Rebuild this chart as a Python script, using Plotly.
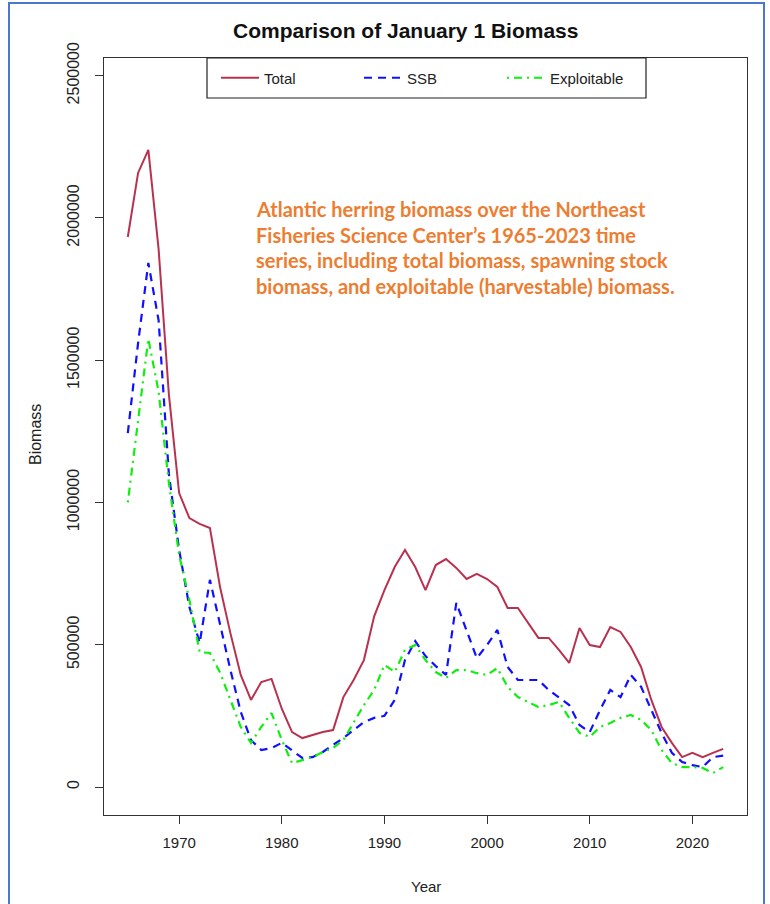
import plotly.graph_objects as go

years = list(range(1965, 2024))
total = [1933000, 2158000, 2239000, 1890000, 1380000, 1033000, 945000, 925000, 910000, 700000,
         540000, 394000, 306000, 369000, 380000, 275000, 193000, 172000, 183000, 193000,
         200000, 316000, 376000, 446000, 600000, 692000, 773000, 833000, 773000, 692000,
         780000, 801000, 770000, 731000, 749000, 731000, 703000, 629000, 629000, 576000,
         524000, 524000, 482000, 436000, 559000, 499000, 492000, 562000, 545000, 492000,
         422000, 306000, 211000, 155000, 105000, 120000, 105000, 120000, 134000]
ssb = [1244000, 1560000, 1842000, 1640000, 1100000, 833000, 633000, 506000, 728000, 569000,
       411000, 264000, 165000, 130000, 137000, 155000, 130000, 102000, 105000, 123000,
       148000, 172000, 200000, 228000, 243000, 250000, 306000, 446000, 513000, 460000,
       425000, 394000, 647000, 552000, 453000, 499000, 552000, 422000, 376000, 376000,
       376000, 341000, 316000, 288000, 218000, 193000, 270000, 341000, 316000, 394000,
       352000, 270000, 190000, 120000, 88000, 77000, 70000, 105000, 110000]
exploitable = [1000000, 1290000, 1575000, 1389000, 1069000, 815000, 657000, 474000, 471000, 401000,
               306000, 211000, 155000, 211000, 260000, 165000, 84000, 95000, 105000, 123000,
               137000, 165000, 228000, 288000, 341000, 429000, 404000, 482000, 499000, 446000,
               404000, 383000, 411000, 411000, 400000, 394000, 418000, 352000, 316000, 299000,
               281000, 288000, 299000, 243000, 190000, 176000, 211000, 225000, 243000, 253000,
               236000, 200000, 130000, 84000, 70000, 70000, 67000, 49000, 70000]

x_ticks = [1970, 1980, 1990, 2000, 2010, 2020]
y_ticks = [0, 500000, 1000000, 1500000, 2000000, 2500000]

title_text = "Comparison of January 1 Biomass"
note_lines = [
    "Atlantic herring biomass over the Northeast",
    "Fisheries Science Center\u2019s 1965-2023 time",
    "series, including total biomass, spawning stock",
    "biomass, and exploitable (harvestable) biomass.",
]

W, H = 770, 904
L, R, T, B = 104, 23, 58, 89
pw, ph = W - L - R, H - T - B

def px(x):
    return (x - L) / pw

def py(y):
    return (H - B - y) / ph

FONT = "Liberation Sans, Arial, sans-serif"

fig = go.Figure()
fig.add_trace(go.Scatter(x=years, y=total, name="Total", mode="lines",
                         line=dict(color="#b83250", width=2)))
fig.add_trace(go.Scatter(x=years, y=ssb, name="SSB", mode="lines",
                         line=dict(color="#1010ff", width=2.2, dash="8px,6px")))
fig.add_trace(go.Scatter(x=years, y=exploitable, name="Exploitable", mode="lines",
                         line=dict(color="#10ee10", width=2.2, dash="2px,5px,8px,5px")))

fig.update_layout(
    width=W, height=H,
    margin=dict(l=L, r=R, t=T, b=B, autoexpand=False),
    paper_bgcolor="white", plot_bgcolor="white",
    font=dict(family=FONT, color="#222"),
    showlegend=True,
    legend=dict(orientation="h", x=px(216), xanchor="left", y=py(78), yanchor="middle",
                font=dict(size=15, family=FONT, color="#222"),
                entrywidth=90, entrywidthmode="pixels",
                bgcolor="rgba(0,0,0,0)", borderwidth=0, itemwidth=38),
    xaxis=dict(range=[1962.68, 2025.32], tickvals=x_ticks, ticks="outside", ticklen=8,
               tickcolor="#333", showgrid=False, zeroline=False, showline=True,
               linecolor="#333", linewidth=1.2, mirror=True, automargin=False,
               tickfont=dict(size=15, color="#222"), ticklabelstandoff=6),
    yaxis=dict(range=[-98400, 2562000], tickvals=y_ticks, tickformat="d", ticks="outside",
               ticklen=8, tickcolor="#333", showgrid=False, zeroline=False, showline=True,
               linecolor="#333", linewidth=1.2, mirror=True, tickangle=-90, automargin=False,
               tickfont=dict(size=16, color="#222"), ticklabelstandoff=10),
    shapes=[
        dict(type="rect", xref="paper", yref="paper", x0=px(207), x1=px(646), y0=py(98), y1=py(58),
             line=dict(color="#222", width=1.2), fillcolor="rgba(0,0,0,0)"),
        dict(type="rect", xref="paper", yref="paper", x0=px(9), x1=px(764), y0=py(915), y1=py(3),
             line=dict(color="#4a78d0", width=2), fillcolor="rgba(0,0,0,0)"),
    ],
)

annotations = [
    dict(text="<b>" + title_text + "</b>", x=px(405), y=py(30), xref="paper", yref="paper",
         xanchor="center", yanchor="middle", showarrow=False,
         font=dict(size=21, family=FONT, color="#111")),
    dict(text="Year", x=px(426), y=py(886), xref="paper", yref="paper",
         xanchor="center", yanchor="middle", showarrow=False,
         font=dict(size=15, family=FONT, color="#222")),
    dict(text="Biomass", x=px(35), y=py(435), xref="paper", yref="paper",
         xanchor="center", yanchor="middle", showarrow=False, textangle=-90,
         font=dict(size=16, family=FONT, color="#222")),
]
for i, line in enumerate(note_lines):
    annotations.append(dict(text="<b>" + line + "</b>", x=px(254), y=py(209 + 25.7 * i),
                            xref="paper", yref="paper", xanchor="left", yanchor="middle",
                            showarrow=False, align="left",
                            font=dict(size=20, family="Lato, sans-serif", color="#ed7d31")))
fig.update_layout(annotations=annotations)

fig.write_html("out.html", config={"displayModeBar": False},
               post_script="document.body.style.margin='0px';")
